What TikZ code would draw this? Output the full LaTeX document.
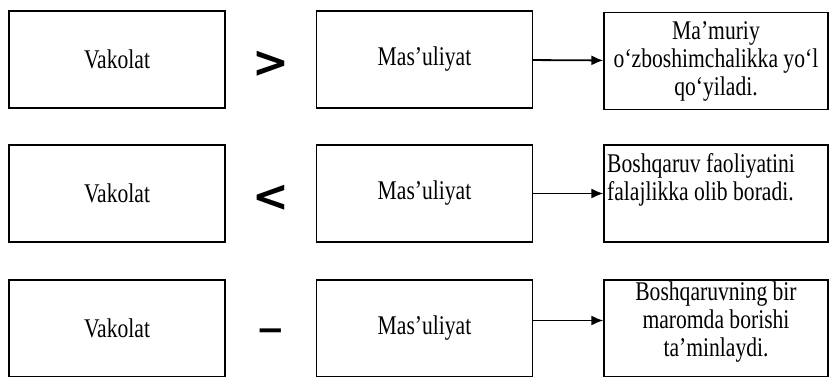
\documentclass[tikz,border=0pt]{standalone}
\usepackage{fontspec}
\setmainfont{Liberation Serif}[FakeStretch=0.8]
\newfontfamily\signfont{DejaVu Sans}
\usetikzlibrary{arrows.meta}

\begin{document}
\begin{tikzpicture}[x=1pt, y=-1pt,
	every node/.style={font=\fontsize{27}{28}\selectfont, inner sep=2pt},
	box/.style={draw=black, line width=1.2pt, minimum width=216pt, minimum height=97pt},
	wbox/.style={box, minimum width=224pt},
	sign/.style={font=\fontsize{44}{44}\signfont\bfseries},
	arr/.style={-{Latex[length=12pt,width=10pt]}, line width=1.8pt}]
	\useasboundingbox (0,0) rectangle (831,377);
	\clip (0,0) rectangle (831,377);
	% first row
	\node[box](v1) at (117,59.5){Vakolat};
	\node[sign](s1) at (271,64){>};
	\node[box](m1) at (424.5,59.5){Mas’uliyat};
	\node[wbox, align=center](r1) at (716,61){Ma’muriy\\o‘zboshimchalikka yo‘l\\qo‘yiladi.};
	% second row
	\node[box](v2) at (117,193.5){Vakolat};
	\node[sign](s2) at (271,198){<};
	\node[box](m2) at (424.5,193.5){Mas’uliyat};
	\node[wbox](r2) at (716,193.5){};
	\node[anchor=north west, align=left](t2) at (605,151){Boshqaruv faoliyatini\\falajlikka olib boradi.};
	% third row
	\node[box](v3) at (117,328.5){Vakolat};
	\node[sign, font=\fontsize{34}{34}\signfont\bfseries](s3) at (271,335){−};
	\node[box](m3) at (424.5,328.5){Mas’uliyat};
	\node[wbox](r3) at (716,328.5){};
	\node[anchor=north, align=center](t3) at (716,280){Boshqaruvning bir\\maromda borishi\\ta’minlaydi.};
	\draw[arr] (m1) -- (r1);
	\draw[arr] (m2) -- (r2);
	\draw[arr] ([yshift=8pt]m3.east) -- ([yshift=8pt]r3.west);
\end{tikzpicture}
\end{document}
